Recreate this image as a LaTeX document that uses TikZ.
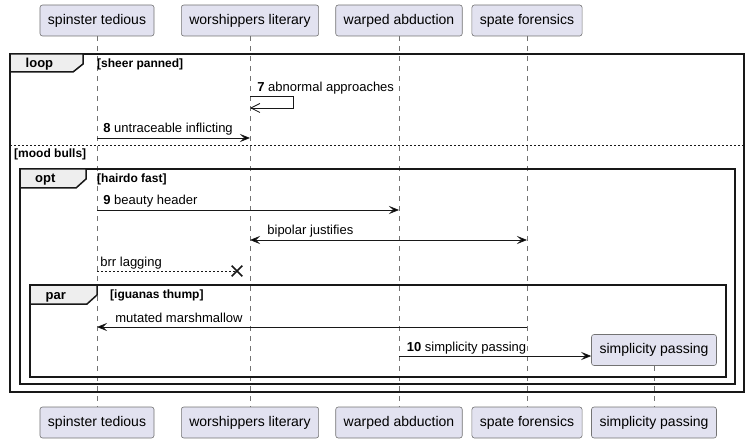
\documentclass[tikz,border=0pt]{standalone}
\usepackage{fontspec}
\setmainfont{Liberation Sans}
\usepackage{xcolor}
\usepackage{tikz}
\usetikzlibrary{arrows.meta,shapes.misc}
\definecolor{partfill}{HTML}{E2E2F0}
\definecolor{tabfill}{HTML}{EEEEEE}
\definecolor{ink}{HTML}{181818}

\begin{document}
\begin{tikzpicture}[x=1pt,y=-1pt,
		part/.style={draw=black!55,line width=0.6pt,fill=partfill,rounded corners=2.5pt,
			minimum height=31pt,inner xsep=8pt,font=\fontsize{14}{16}\selectfont},
		life/.style={draw=black!55,line width=0.6pt,dash pattern=on 5pt off 5pt},
		frm/.style={draw=ink,line width=1.5pt},
		tabbox/.style={draw=ink,line width=1.5pt,fill=tabfill},
		msg/.style={font=\fontsize{13}{15}\selectfont,anchor=base west,inner sep=0pt},
		grd/.style={font=\fontsize{12}{14}\selectfont\bfseries,anchor=base west,inner sep=0pt},
		tablbl/.style={font=\fontsize{13}{15}\selectfont\bfseries,anchor=base west,inner sep=0pt}]
		\useasboundingbox (0,0) rectangle (751,443);
		% participants
		\node[part] (st) at (97,20.5) {spinster tedious};
		\node[part] (wl) at (250,20.5) {worshippers literary};
		\node[part] (ab) at (399,20.5) {warped abduction};
		\node[part] (sf) at (527,20.5) {spate forensics};
		\node[part] (st') at (97,422.5) {spinster tedious};
		\node[part] (wl') at (250,422.5) {worshippers literary};
		\node[part] (ab') at (399,422.5) {warped abduction};
		\node[part] (sf') at (527,422.5) {spate forensics};
		\node[part] (sp) at (654,350) {simplicity passing};
		\node[part] (sp') at (654,422.5) {simplicity passing};
		%
		% lifelines
		\draw[life] (st) -- (st');
		\draw[life] (wl) -- (wl');
		\draw[life] (ab) -- (ab');
		\draw[life] (sf) -- (sf');
		\draw[life] (sp) -- (sp');
		%
		% frames
		\draw[frm] (10,54) rectangle (744,392);
		\draw[frm] (20,169) rectangle (735,384);
		\draw[frm] (30,285) rectangle (726,377);
		\draw[tabbox] (10,54) -- (83,54) -- (83,64) -- (73,72) -- (10,72) -- cycle;
		\draw[tabbox] (20,169) -- (86,169) -- (86,179) -- (76,188) -- (20,188) -- cycle;
		\draw[tabbox] (30,285) -- (97,285) -- (97,295) -- (87,304) -- (30,304) -- cycle;
		\node[tablbl] (loop) at (25.5,68) {loop};
		\node[tablbl] (opt) at (35,183) {opt};
		\node[tablbl] (par) at (45.5,299) {par};
		\node[grd] (g1) at (97,67.5) {[sheer panned]};
		\node[grd] (g2) at (14,158) {[mood bulls]};
		\node[grd] (g3) at (97,183) {[hairdo fast]};
		\node[grd] (g4) at (110,298.5) {[iguanas thump]};
		\draw[draw=ink,line width=1pt,dash pattern=on 2pt off 2pt] (10,146) -- (744,146);
		%
		% message ends
		\coordinate (wl7) at (250,96);
		\coordinate (wl7') at (250,108);
		\coordinate (st8) at (97,138);
		\coordinate (wl8) at (250,138);
		\coordinate (st9) at (97,210);
		\coordinate (ab9) at (399,210);
		\coordinate (wl0) at (250,240);
		\coordinate (sf0) at (527,240);
		\coordinate (st1) at (97,271);
		\node[cross out,draw=ink,line width=1.6pt,minimum size=9pt,inner sep=0pt] (lost) at (237,271) {};
		\coordinate (sf2) at (527,327);
		\coordinate (st2) at (97,327);
		\coordinate (ab3) at (399,356);
		\coordinate (sp3) at (sp.west |- ab3);
		%
		\path[draw=ink,line width=0.8pt,>={Stealth[length=10pt,width=8pt,inset=4pt]}]
		% self message
		(wl7) edge[-{Straight Barb[length=9pt,width=9pt]},to path={-- ++(43,0) \tikztonodes -- ++(0,12) -- (\tikztotarget)}]
			node[msg,pos=0,xshift=7pt,yshift=4.5pt] (l7) {\textbf{7} abnormal approaches} (wl7')
		% left to right
		(st8) edge[->] node[msg,pos=0,xshift=6pt,yshift=5pt] (l8) {\textbf{8} untraceable inflicting} (wl8)
		(st9) edge[->] node[msg,pos=0,xshift=6pt,yshift=5pt] (l9) {\textbf{9} beauty header} (ab9)
		(wl0) edge[<->] node[msg,pos=0,xshift=17pt,yshift=5pt] (l0) {bipolar justifies} (sf0)
		(st1) edge[dash pattern=on 2pt off 2pt] node[msg,pos=0,xshift=3pt,yshift=5pt] (l1) {brr lagging} (lost.center)
		% right to left
		(sf2) edge[->] node[msg,pos=1,xshift=18pt,yshift=5pt] (l2) {mutated marshmallow} (st2)
		(ab3) edge[->] node[msg,pos=0,xshift=7.5pt,yshift=5pt] (l3) {\textbf{10} simplicity passing} (sp3);
	\end{tikzpicture}
\end{document}
